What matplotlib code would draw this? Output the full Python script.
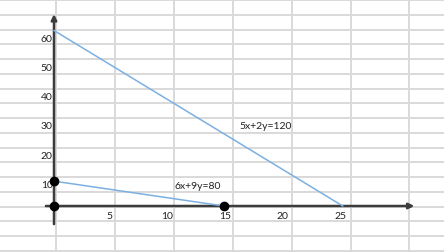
import matplotlib
matplotlib.use("Agg")
import matplotlib.pyplot as plt

# --- data ---
line1_label = "5x+2y=120"
line1_x = [0, 25]
line1_y = [60, 0]
line2_label = "6x+9y=80"
line2_x = [0, 14.7]
line2_y = [8.5, 0]
points_x = [0, 0, 14.7]
points_y = [0, 8.5, 0]
x_tick_labels = [5, 10, 15, 20, 25]
y_tick_labels = [60, 50, 40, 30, 20, 10]

W, H = 444, 253
fig = plt.figure(figsize=(W / 100, H / 100), dpi=100)
plt.rcParams['font.family'] = ['Lato', 'DejaVu Sans']

# spreadsheet cell grid background
bg = fig.add_axes([0, 0, 1, 1])
bg.set_xlim(0, W)
bg.set_ylim(H, 0)
bg.set_xticks([56 + 58.9 * k for k in range(7)])
bg.set_yticks([1 + 14.75 * k for k in range(18)])
bg.grid(True, color='#d9d9d9', lw=1.4)
bg.tick_params(length=0, labelbottom=False, labelleft=False)
for s in bg.spines.values():
    s.set_visible(False)

# chart axes (origin at pixel 54,207)
ox, oy = 54, 207
sx, sy = 11.55, 2.925
ax = fig.add_axes([0, 0, 1, 1])
ax.patch.set_alpha(0)
ax.set_xlim(-ox / sx, (W - ox) / sx)
ax.set_ylim(-(H - oy) / sy, oy / sy)
ax.axis('off')

axis_col = '#3c3c3c'
ax.annotate('', xy=(31.2, 0), xytext=(-0.7, 0),
            arrowprops=dict(arrowstyle='-|>', color=axis_col, lw=1.8,
                            mutation_scale=8, shrinkA=0, shrinkB=0))
ax.annotate('', xy=(0, 65.6), xytext=(0, -6.2),
            arrowprops=dict(arrowstyle='-|>', color=axis_col, lw=1.8,
                            mutation_scale=8, shrinkA=0, shrinkB=0))

line_col = '#7cb0e2'
ax.plot(line1_x, line1_y, color=line_col, lw=1.1, zorder=3)
ax.plot(line2_x, line2_y, color=line_col, lw=1.1, zorder=3)
ax.plot(points_x, points_y, 'o', color='black', ms=6, zorder=5)

txt_col = '#222222'
for v in y_tick_labels:
    ax.text(-0.12, v - 2.6, str(v), ha='right', va='center', fontsize=7.5, color=txt_col)
for v in x_tick_labels:
    ax.text(v - 0.2, -3.1, str(v), ha='center', va='center', fontsize=7.5, color=txt_col)

ax.text(18.3, 27.4, line1_label, ha='center', va='center', fontsize=7.5, color=txt_col)
ax.text(12.4, 6.9, line2_label, ha='center', va='center', fontsize=7.5, color=txt_col)

fig.savefig('out.png', dpi=100)
